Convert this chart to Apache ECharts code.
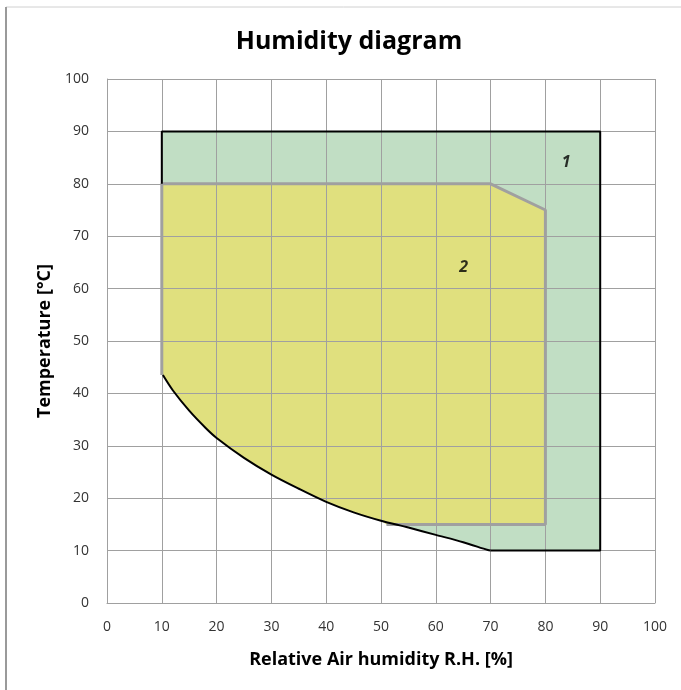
<!DOCTYPE html>
<html>
<head>
<meta charset="utf-8">
<script src="https://cdn.jsdelivr.net/npm/echarts@6/dist/echarts.min.js"></script>
<style>
  html, body { margin: 0; padding: 0; background: #fff; }
  #chart { width: 681px; height: 690px; }
</style>
</head>
<body>
<div id="chart"></div>
<script>
// lower boundary curve (shared by both regions), from left to right
var curvePoints = [[10.2, 43.5], [12, 40.6], [15, 36.7], [18, 33.4], [20, 31.5], [25, 27.7],
  [30, 24.5], [35, 21.8], [40, 19.3], [45, 17.3], [50, 15.7], [55, 14.4], [60, 13.0],
  [65, 11.6], [69.5, 10.1]];

// region 1 (green) outline, excluding the curve
var region1Top = [[10, 43.5], [10, 90], [90, 90], [90, 10], [70, 10]];
// region 2 (yellow) outline, excluding the curve
var region2Top = [[10, 43.5], [10, 80], [70, 80], [80, 75], [80, 15], [51, 15]];

var areaLabels = [[83.8, 84, '1'], [65.1, 64, '2']];

var xTicks = [0, 10, 20, 30, 40, 50, 60, 70, 80, 90, 100];
var yTicks = [0, 10, 20, 30, 40, 50, 60, 70, 80, 90, 100];

// curve points below a given x limit, reversed (right to left)
function curveBack(fromX) {
  var pts = [];
  for (var i = curvePoints.length - 1; i >= 0; i--) {
    if (curvePoints[i][0] <= fromX) pts.push(curvePoints[i]);
  }
  return pts;
}

var poly1 = region1Top.concat([[70, 10]]).concat(curveBack(70));
var poly2 = region2Top.concat(curveBack(51));

var blackEdge = [[10, 80], [10, 90], [90, 90], [90, 10], [70, 10]];

function polygonSeries(points, color) {
  return {
    type: 'custom',
    z: -1,
    silent: true,
    data: [0],
    renderItem: function (params, api) {
      var pts = points.map(function (p) { return api.coord(p); });
      return {
        type: 'polygon',
        shape: { points: pts },
        style: { fill: color, stroke: null }
      };
    }
  };
}

var chart = echarts.init(document.getElementById('chart'));

var font = '"Open Sans", "Liberation Sans", sans-serif';

var option = {
  backgroundColor: '#ffffff',
  animation: false,
  title: {
    text: 'Humidity diagram',
    left: 344,
    top: 24,
    textAlign: 'center',
    textStyle: { fontFamily: font, fontSize: 25, fontWeight: 'bold', color: '#000' }
  },
  graphic: [
    { type: 'line', shape: { x1: 6, y1: 7, x2: 681, y2: 7 }, style: { stroke: '#d0d0d0', lineWidth: 1 } },
    { type: 'line', shape: { x1: 6, y1: 7, x2: 6, y2: 690 }, style: { stroke: '#9a9a9a', lineWidth: 2 } }
  ],
  grid: { left: 107, right: 26, top: 79, bottom: 87 },
  xAxis: {
    type: 'value',
    min: 0, max: 100, interval: 10,
    name: 'Relative Air humidity R.H. [%]',
    nameLocation: 'middle',
    nameGap: 48,
    nameTextStyle: { fontFamily: font, fontSize: 18, fontWeight: 'bold', color: '#000' },
    axisLine: { show: true, lineStyle: { color: '#a0a0a0', width: 1 } },
    axisTick: { show: false },
    axisLabel: {
      fontFamily: font, fontSize: 14, color: '#333', margin: 17,
      formatter: function (v) { return xTicks.indexOf(v) >= 0 ? String(v) : ''; }
    },
    splitLine: { show: true, lineStyle: { color: '#a0a0a0', width: 1 } }
  },
  yAxis: {
    type: 'value',
    min: 0, max: 100, interval: 10,
    name: 'Temperature [°C]',
    nameLocation: 'middle',
    nameGap: 53,
    nameRotate: 90,
    nameTextStyle: { fontFamily: font, fontSize: 18, fontWeight: 'bold', color: '#000' },
    axisLine: { show: true, lineStyle: { color: '#a0a0a0', width: 1 } },
    axisTick: { show: false },
    axisLabel: {
      fontFamily: font, fontSize: 14, color: '#333', margin: 18,
      formatter: function (v) { return yTicks.indexOf(v) >= 0 ? String(v) : ''; }
    },
    splitLine: { show: true, lineStyle: { color: '#a0a0a0', width: 1 } }
  },
  series: [
    polygonSeries(poly1, '#c1dec4'),
    polygonSeries(poly2, '#e0e07e'),
    {
      type: 'line',
      data: region2Top,
      symbol: 'none',
      lineStyle: { color: '#a0a0a0', width: 3 },
      z: 3
    },
    {
      type: 'line',
      data: blackEdge,
      symbol: 'none',
      lineStyle: { color: '#000', width: 2 },
      z: 4
    },
    {
      type: 'line',
      data: curvePoints.concat([[70, 10]]),
      symbol: 'none',
      smooth: 0.3,
      lineStyle: { color: '#000', width: 2 },
      z: 4
    },
    {
      type: 'scatter',
      data: areaLabels,
      symbolSize: 0,
      z: 5,
      label: {
        show: true,
        position: 'inside',
        formatter: function (p) { return p.value[2]; },
        fontFamily: font, fontSize: 16, fontWeight: 'bold', fontStyle: 'italic', color: '#000'
      }
    }
  ]
};

chart.setOption(option);
</script>
</body>
</html>
